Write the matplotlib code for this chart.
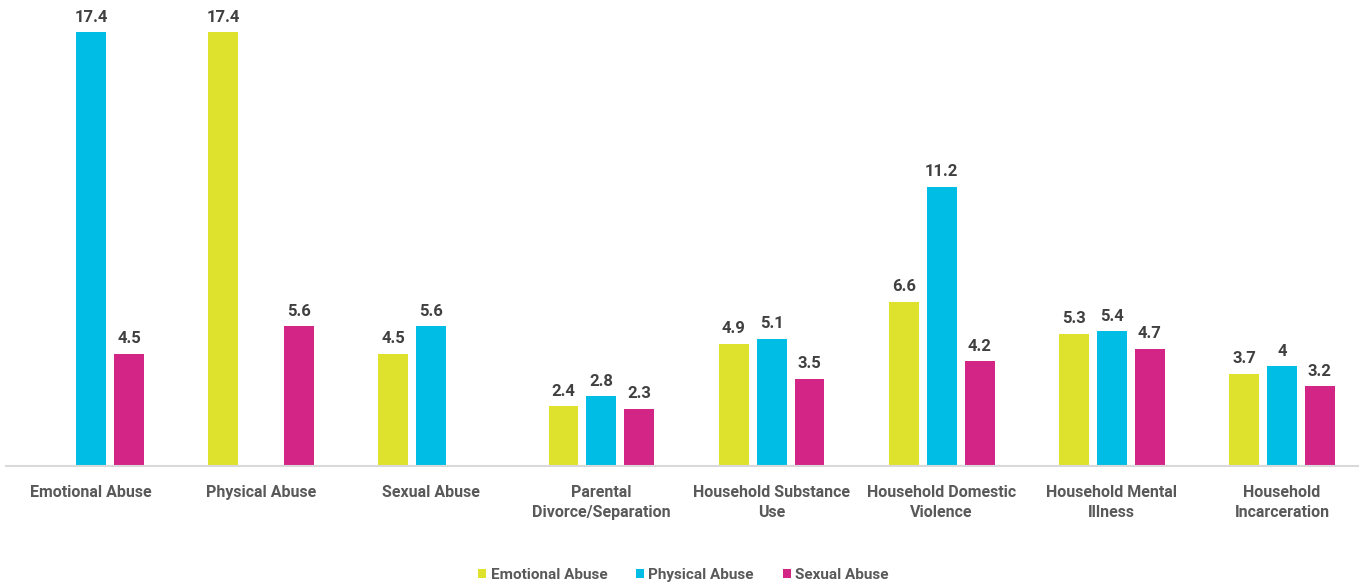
import numpy as np
import matplotlib.pyplot as plt

plt.rcParams['font.family'] = ['Roboto', 'DejaVu Sans']

categories = ['Emotional Abuse', 'Physical Abuse', 'Sexual Abuse',
              'Parental\nDivorce/Separation', 'Household Substance\nUse',
              'Household Domestic\nViolence', 'Household Mental\nIllness',
              'Household\nIncarceration']
emotional = [np.nan, 17.4, 4.5, 2.4, 4.9, 6.6, 5.3, 3.7]
physical = [17.4, np.nan, 5.6, 2.8, 5.1, 11.2, 5.4, 4.0]
sexual = [4.5, 5.6, np.nan, 2.3, 3.5, 4.2, 4.7, 3.2]

series = [('Emotional Abuse', emotional, '#DFE22C'),
          ('Physical Abuse', physical, '#00BDE5'),
          ('Sexual Abuse', sexual, '#D32586')]

fig = plt.figure(figsize=(13.67, 5.87), dpi=100)
ax = fig.add_axes([6 / 1367, 121 / 587, 1361 / 1367, 466 / 587])

x = np.arange(len(categories))
step = 0.223
width = 0.176
for i, (name, vals, color) in enumerate(series):
    pos = x + (i - 1) * step
    ax.bar(pos, vals, width=width, color=color, label=name)
    for p, v in zip(pos, vals):
        if np.isnan(v):
            continue
        ax.text(p, v + 0.3, f'{v:g}', ha='center', va='bottom',
                fontsize=12, fontweight='bold', color='#404040')

ax.set_xlim(-0.5, len(categories) - 0.5)
ax.set_ylim(0, 18.7)
ax.set_yticks([])
ax.set_xticks(x)
ax.set_xticklabels(categories, fontsize=11.5, fontweight='bold',
                   color='#595959', linespacing=1.4)
ax.tick_params(axis='x', length=0, pad=14)
for s in ['top', 'right', 'left']:
    ax.spines[s].set_visible(False)
ax.spines['bottom'].set_color('#d9d9d9')
ax.spines['bottom'].set_linewidth(1.5)
ax.spines['bottom'].set_bounds(-0.5, 7.45)

leg = fig.legend(loc='center', bbox_to_anchor=(0.5, 12 / 587), ncol=3,
                 frameon=False, handlelength=0.5, handleheight=0.5,
                 handletextpad=0.3, columnspacing=1.9,
                 prop={'size': 11, 'weight': 'bold'})
for t in leg.get_texts():
    t.set_color('#595959')

fig.savefig('out.png', dpi=100)
